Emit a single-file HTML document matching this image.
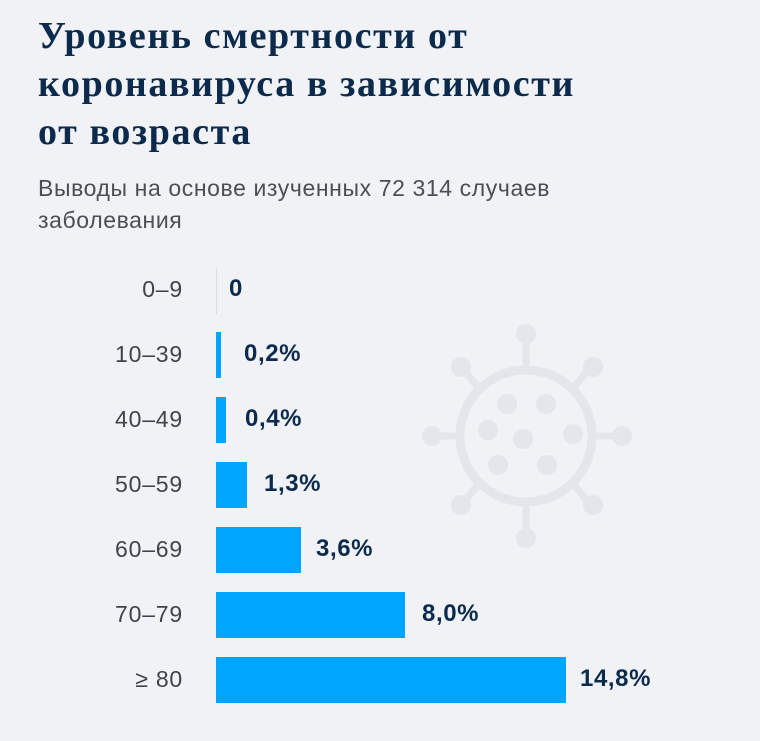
<!DOCTYPE html>
<html><head><meta charset="utf-8"><style>
body{margin:0;width:760px;height:741px;background:#f0f2f5;position:relative;overflow:hidden;font-family:"Liberation Sans","DejaVu Sans",sans-serif}
h1{position:absolute;left:38px;top:12px;margin:0;font-family:"Liberation Serif","DejaVu Serif",serif;font-weight:bold;font-size:38px;line-height:48px;color:#0b2a4c;letter-spacing:1.6px}
.sub{position:absolute;left:38px;top:172px;font-size:23px;line-height:32px;color:#4a4f55;letter-spacing:0.6px}
.lab{position:absolute;right:577px;font-size:23px;color:#3f444a;letter-spacing:0.8px}
.bar{position:absolute;left:216px;height:46px;background:#00a5ff}
.val{position:absolute;font-size:24px;font-weight:bold;color:#0b2a4c;letter-spacing:0.6px}
</style></head><body>
<svg style="position:absolute;left:0;top:0" width="760" height="741">
<g fill="#e3e6ea" stroke="#e3e6ea" stroke-width="8">
<circle cx="526" cy="436" r="66" fill="none" stroke-width="9"/>
<g stroke-width="7">
<line x1="526" y1="370" x2="526" y2="336"/><line x1="526" y1="502" x2="526" y2="536"/>
<line x1="460" y1="436" x2="432" y2="436"/><line x1="592" y1="436" x2="620" y2="436"/>
<line x1="479" y1="389" x2="462" y2="367"/><line x1="573" y1="389" x2="590" y2="367"/>
<line x1="479" y1="483" x2="462" y2="505"/><line x1="573" y1="483" x2="590" y2="505"/>
</g>
<g stroke="none">
<circle cx="526" cy="334" r="10"/><circle cx="526" cy="538" r="10"/>
<circle cx="432" cy="436" r="10"/><circle cx="622" cy="436" r="10"/>
<circle cx="461" cy="367" r="10"/><circle cx="593" cy="367" r="10"/>
<circle cx="461" cy="505" r="10"/><circle cx="593" cy="505" r="10"/>
<circle cx="507" cy="404" r="10"/><circle cx="546" cy="404" r="10"/>
<circle cx="488" cy="430" r="10"/><circle cx="573" cy="434" r="10"/>
<circle cx="523" cy="439" r="10"/><circle cx="498" cy="465" r="10"/>
<circle cx="547" cy="465" r="10"/>
</g></g>
<line x1="216.5" y1="268" x2="216.5" y2="314" stroke="#dcdfe3" stroke-width="1"/>
</svg>
<h1>Уровень смертности от<br>коронавируса в зависимости<br>от возраста</h1>
<div class="sub">Выводы на основе изученных 72 314 случаев<br>заболевания</div>
<div class="lab" style="top:276px">0–9</div><div class="val" style="left:229px;top:275px">0</div>
<div class="lab" style="top:341px">10–39</div><div class="bar" style="top:332px;width:5px"></div><div class="val" style="left:244px;top:340px">0,2%</div>
<div class="lab" style="top:406px">40–49</div><div class="bar" style="top:397px;width:10px"></div><div class="val" style="left:245px;top:405px">0,4%</div>
<div class="lab" style="top:471px">50–59</div><div class="bar" style="top:462px;width:31px"></div><div class="val" style="left:264px;top:470px">1,3%</div>
<div class="lab" style="top:536px">60–69</div><div class="bar" style="top:527px;width:85px"></div><div class="val" style="left:316px;top:535px">3,6%</div>
<div class="lab" style="top:601px">70–79</div><div class="bar" style="top:592px;width:189px"></div><div class="val" style="left:422px;top:600px">8,0%</div>
<div class="lab" style="top:666px">≥ 80</div><div class="bar" style="top:657px;width:350px"></div><div class="val" style="left:580px;top:665px">14,8%</div>
</body></html>
